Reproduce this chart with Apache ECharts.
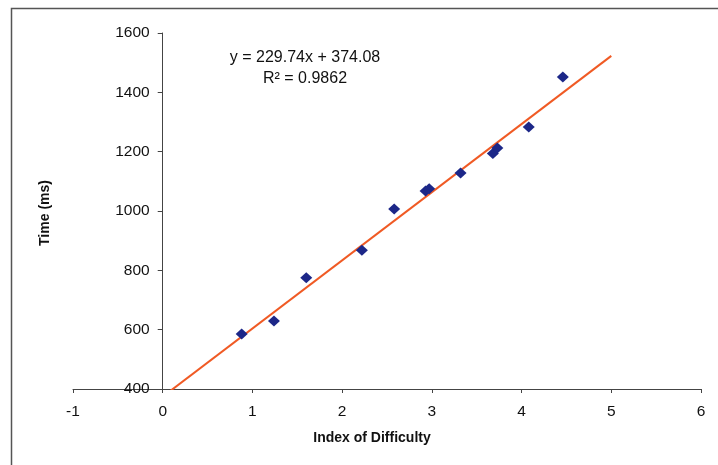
<!DOCTYPE html>
<html>
<head>
<meta charset="utf-8">
<title>Time vs Index of Difficulty</title>
<script src="https://cdn.jsdelivr.net/npm/echarts@6/dist/echarts.min.js"></script>
<style>
  html, body { margin: 0; padding: 0; background: #fff; }
  #chart { width: 718px; height: 465px; }
</style>
</head>
<body>
<div id="chart"></div>
<script>
// Measured trials: index of difficulty (bits) and movement time (ms)
const indexOfDifficulty = [0.88, 1.24, 1.60, 2.22, 2.58, 2.93, 2.97, 3.32, 3.68, 3.73, 4.08, 4.46];
const timeMs = [585, 629, 775, 868, 1007, 1067, 1075, 1128, 1194, 1212, 1283, 1452];

// Linear fit reported on the chart
const fitSlope = 229.74;
const fitIntercept = 374.08;
const fitR2 = 0.9862;
const fitRangeX = [0, 5];

// Axis ranges / ticks
const xTicks = [-1, 0, 1, 2, 3, 4, 5, 6];
const yTicks = [400, 600, 800, 1000, 1200, 1400, 1600];

const points = indexOfDifficulty.map((x, i) => [x, timeMs[i]]);
const fitLine = fitRangeX.map(x => [x, fitSlope * x + fitIntercept]);

const font = '"Liberation Sans", Arial, sans-serif';
const gridLeft = 73, gridRight = 17;
const chartWidth = 718;
// the value axis sits at x = 0, i.e. one unit right of the grid's left edge
const unitPx = (chartWidth - gridLeft - gridRight) / (xTicks[xTicks.length - 1] - xTicks[0]);
const yAxisShift = -(0 - xTicks[0]) * unitPx;

const chart = echarts.init(document.getElementById('chart'), null, { renderer: 'canvas' });

chart.setOption({
  animation: false,
  backgroundColor: '#ffffff',
  grid: { left: gridLeft, right: gridRight, top: 33, bottom: 76, containLabel: false },
  xAxis: {
    type: 'value',
    min: xTicks[0],
    max: xTicks[xTicks.length - 1],
    interval: 1,
    axisLine: { show: true, onZero: false, lineStyle: { color: '#444', width: 1 } },
    axisTick: { show: true, length: 4, inside: false, lineStyle: { color: '#444' } },
    axisLabel: { margin: 15, color: '#111', fontSize: 15.5, fontFamily: font },
    splitLine: { show: false }
  },
  yAxis: {
    type: 'value',
    min: yTicks[0],
    max: yTicks[yTicks.length - 1],
    interval: 200,
    offset: yAxisShift,
    axisLine: { show: true, onZero: false, lineStyle: { color: '#444', width: 1 } },
    axisTick: { show: true, length: 5, inside: false, lineStyle: { color: '#444' } },
    axisLabel: {
      margin: 13, color: '#111', fontSize: 15.5, fontFamily: font,
      formatter: v => String(v)
    },
    splitLine: { show: false }
  },
  series: [
    {
      type: 'line',
      data: fitLine,
      clip: true,
      showSymbol: false,
      symbol: 'none',
      lineStyle: { color: '#f05a24', width: 2 },
      z: 2,
      silent: true
    },
    {
      type: 'scatter',
      data: points,
      symbol: 'diamond',
      symbolSize: [12, 11],
      itemStyle: { color: '#1c2788', opacity: 1 },
      z: 3
    }
  ],
  graphic: [
    {
      type: 'rect',
      left: 9, top: 6,
      shape: { x: 0, y: 0, width: 720, height: 470 },
      style: { fill: 'none', stroke: '#555', lineWidth: 1.5 },
      silent: true
    },
    {
      type: 'text',
      x: 305, y: 58,
      style: {
        text: 'y = ' + fitSlope.toFixed(2) + 'x + ' + fitIntercept.toFixed(2),
        fill: '#111', font: '16px ' + font,
        textAlign: 'center', textVerticalAlign: 'middle'
      }
    },
    {
      type: 'text',
      x: 305, y: 79,
      style: {
        text: 'R² = ' + fitR2.toFixed(4),
        fill: '#111', font: '16px ' + font,
        textAlign: 'center', textVerticalAlign: 'middle'
      }
    },
    {
      type: 'text',
      x: 372, y: 438,
      style: {
        text: 'Index of Difficulty',
        fill: '#111', font: 'bold 14px ' + font,
        textAlign: 'center', textVerticalAlign: 'middle'
      }
    },
    {
      type: 'text',
      x: 45, y: 213,
      rotation: Math.PI / 2,
      style: {
        text: 'Time (ms)',
        fill: '#111', font: 'bold 14px ' + font,
        textAlign: 'center', textVerticalAlign: 'middle'
      }
    }
  ]
});
</script>
</body>
</html>
